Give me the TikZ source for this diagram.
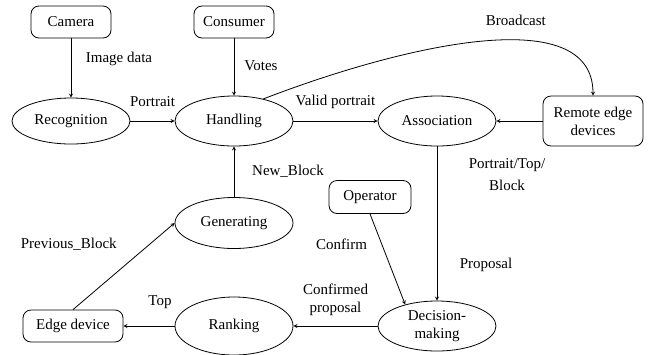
\documentclass[tikz,border=0pt]{standalone}
\usepackage{fontspec}
\setmainfont{LiberationSerif}[Extension=.ttf, UprightFont=*-Regular]
\usetikzlibrary{shapes.geometric, arrows}
\tikzstyle{box} = [rectangle, rounded corners=8pt, minimum width=80pt, minimum height=32pt, text centered, draw=black, fill=white]
\tikzstyle{proc} = [ellipse, minimum width=118pt, minimum height=50pt, inner sep=1pt, text centered, align=center, draw=black]
\tikzstyle{arrow} = [->,>=stealth]

\begin{document}
\begin{tikzpicture}[x=1pt, y=-1pt, node distance=102pt, line width=0.8pt, font=\rmfamily\fontsize{15}{18}\selectfont]
\useasboundingbox (0,0) rectangle (652,354);
\node (cam) [box] at (71,22) {Camera};
\node (con) [box] at (234,22) {Consumer};
\node (rec) [proc, minimum height=46pt] at (71,121) {Recognition};
\node (han) [proc] at (234,121) {Handling};
\node (asc) [proc] at (437,121) {Association};
\node (rem) [box, minimum width=100pt, minimum height=50pt, align=center] at (593,121) {Remote edge\\devices};
\node (gen) [proc, below of=han, minimum height=51pt] {Generating};
\node (rnk) [proc, below of=gen, yshift=-1pt, minimum height=58pt] {Ranking};
\node (opr) [box, minimum width=82pt, minimum height=33pt] at (370,197) {Operator};
\node (dec) [proc, below of=asc, node distance=205pt] {Decision-\\making};
\node (edg) [box, minimum width=100pt] at (73,326) {Edge device};

\draw [arrow] (cam) -- node[pos=0.34, xshift=48pt] {Image data} (rec);
\draw [arrow] (con) -- node[pos=0.47, xshift=27pt] {Votes} (han);
\draw [arrow] (rec) -- node[yshift=19pt] {Portrait} (han);
\draw [arrow] (han) -- node[yshift=19pt] {Valid portrait} (asc);
\draw [arrow] (rem) -- (asc);
\draw [arrow] (han.37) .. controls +(135,-52) and +(0,-96) .. node[pos=0.6, yshift=20pt] {Broadcast} (rem.north);
\draw [arrow] (gen) -- node[xshift=54pt] {New\_Block} (han);
\draw [arrow] (edg.north) -- node[xshift=-55pt, yshift=22pt] {Previous\_Block} (gen.west);
\draw [arrow] (asc) -- node[pos=0.18, xshift=70pt, align=center] {Portrait/Top/\\[4pt]Block}
    node[pos=0.77, xshift=49pt] {Proposal} (dec);
\draw [arrow] (opr.south) -- node[pos=0.33, xshift=-40pt] {Confirm} (dec.146);
\draw [arrow] (dec) -- node[yshift=26pt, align=center] {Confirmed\\proposal} (rnk);
\draw [arrow] (rnk) -- node[xshift=11pt, yshift=24pt] {Top} (edg);
\end{tikzpicture}
\end{document}
